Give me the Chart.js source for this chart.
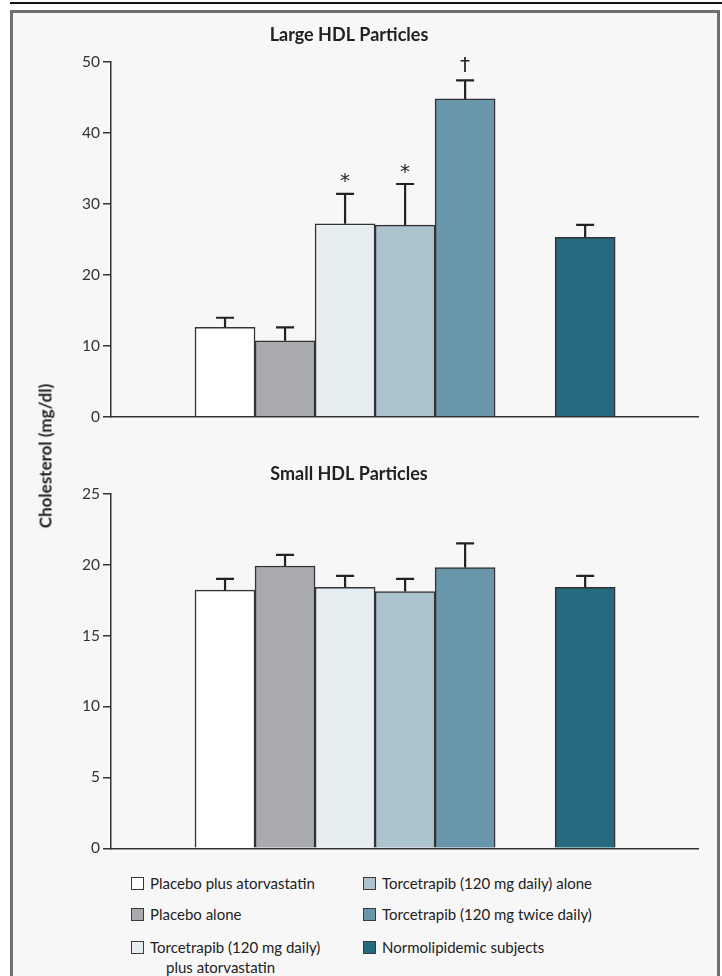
<!DOCTYPE html>
<html>
<head>
<meta charset="utf-8">
<script src="https://cdn.jsdelivr.net/npm/chart.js@4.4.1/dist/chart.umd.min.js"></script>
<style>
  html, body { margin: 0; padding: 0; background: #ffffff; }
  body { width: 722px; height: 976px; position: relative; overflow: hidden; font-family: Lato, "Open Sans", sans-serif; color: #222; }
  #rule { position: absolute; left: 10px; top: 2px; width: 712px; height: 2px; background: #151515; }
  #frame { position: absolute; left: 10px; top: 10px; width: 704px; height: 1000px; border: 3px solid #6f6f6f; background: #f7f7f7; }
  canvas { position: absolute; left: 0; }
  #ytitle { position: absolute; left: 45px; top: 456px; transform: translate(-50%, -50%) rotate(-90deg); white-space: nowrap; font-weight: bold; font-size: 17px; color: #222; }
  .lg { position: absolute; font-size: 15px; color: #222; line-height: 20px; white-space: nowrap; }
  .lg .box { position: absolute; left: 0; top: 3px; width: 11px; height: 11px; border: 1px solid #3a3a3a; }
  .lg .txt { position: absolute; left: 19px; top: -1px; }
  .lg .txt2 { position: absolute; left: 35px; top: 19px; }
</style>
</head>
<body>
<div id="rule"></div>
<div id="frame"></div>
<canvas id="large" width="722" height="410" style="top:20px"></canvas>
<canvas id="small" width="722" height="430" style="top:440px"></canvas>
<div id="ytitle">Cholesterol (mg/dl)</div>
<div id="legend"></div>
<script>
// ---- data ----
const categories = [
  'Placebo plus atorvastatin',
  'Placebo alone',
  ['Torcetrapib (120 mg daily)', 'plus atorvastatin'],
  'Torcetrapib (120 mg daily) alone',
  'Torcetrapib (120 mg twice daily)',
  'Normolipidemic subjects'
];
const slots = [1, 2, 3, 4, 5, 7];
const largeMeans = [12.6, 10.7, 27.2, 27.0, 44.8, 25.3];
const largeErr   = [1.35, 1.9, 4.2, 5.8, 2.6, 1.75];
const largeMarks = ['', '', '*', '*', '\u2020', ''];
const smallMeans = [18.2, 19.9, 18.4, 18.1, 19.8, 18.4];
const smallErr   = [0.8, 0.78, 0.8, 0.9, 1.7, 0.8];
const smallMarks = ['', '', '', '', '', ''];
const largeTicks = [0, 10, 20, 30, 40, 50];
const smallTicks = [0, 5, 10, 15, 20, 25];
const colors = ['#ffffff', '#a9aaae', '#e6eef2', '#acc3d0', '#6a96ab', '#266a80'];

const FONT = 'Lato, "Open Sans", sans-serif';

const errPlugin = {
  id: 'errbars',
  afterDatasetsDraw(chart, args, opts) {
    const ctx = chart.ctx;
    const meta = chart.getDatasetMeta(0);
    const ys = chart.scales.y;
    ctx.save();
    ctx.strokeStyle = '#222';
    ctx.lineWidth = 2.2;
    meta.data.forEach((bar, i) => {
      const v = opts.means[i], e = opts.errs[i];
      const yTop = ys.getPixelForValue(v + e);
      const yBar = ys.getPixelForValue(v);
      ctx.beginPath();
      ctx.moveTo(bar.x, yBar);
      ctx.lineTo(bar.x, yTop);
      ctx.moveTo(bar.x - 9, yTop);
      ctx.lineTo(bar.x + 9, yTop);
      ctx.stroke();
      const m = opts.marks[i];
      if (m) {
        ctx.fillStyle = '#222';
        ctx.font = '20px "DejaVu Sans", sans-serif';
        ctx.textAlign = 'center';
        ctx.textBaseline = 'alphabetic';
        const mt = ctx.measureText(m);
        const target = yTop - 16;
        const y = target + (mt.actualBoundingBoxAscent - mt.actualBoundingBoxDescent) / 2;
        ctx.fillText(m, bar.x, y);
      }
    });
    ctx.restore();
  }
};

function makeChart(id, title, means, errs, marks, ticks, pad) {
  const tickMax = ticks[ticks.length - 1];
  const step = ticks[1] - ticks[0];
  return new Chart(document.getElementById(id), {
    type: 'bar',
    data: {
      labels: categories,
      datasets: [{
        data: means.map((v, i) => ({ x: slots[i], y: v })),
        backgroundColor: colors,
        borderColor: '#333',
        borderWidth: 1.5,
        barPercentage: 1,
        categoryPercentage: 1
      }]
    },
    options: {
      responsive: false,
      animation: false,
      devicePixelRatio: 1,
      layout: { padding: { left: 0, right: 24, top: pad.top, bottom: pad.bottom } },
      plugins: {
        legend: { display: false },
        tooltip: { enabled: false },
        title: {
          display: true, text: title, color: '#222',
          font: { family: FONT, size: 18, weight: 'bold', lineHeight: 1.2 },
          padding: { top: pad.tTop, bottom: pad.tBottom }
        },
        errbars: { means: means, errs: errs, marks: marks }
      },
      scales: {
        x: {
          type: 'linear', min: -0.9, max: 8.88, offset: false,
          grid: { display: false },
          ticks: { display: false },
          border: { display: true, color: '#333', width: 1.5 },
          afterBuildTicks(s) { s.ticks = slots.map(v => ({ value: v })); },
          afterFit(s) { s.height = 0; }
        },
        y: {
          min: 0, max: tickMax,
          ticks: { stepSize: step, color: '#333', padding: 3, font: { family: FONT, size: 15.5 } },
          grid: { drawOnChartArea: false, drawTicks: true, tickLength: 8, color: '#333', lineWidth: 1.5 },
          border: { display: true, color: '#333', width: 1.5 },
          afterFit(s) { s.width = 111; }
        }
      }
    },
    plugins: [errPlugin]
  });
}

makeChart('large', 'Large HDL Particles', largeMeans, largeErr, largeMarks, largeTicks,
  { top: 0, bottom: 13.3, tTop: 4, tBottom: 16.4 });
makeChart('small', 'Small HDL Particles', smallMeans, smallErr, smallMarks, smallTicks,
  { top: 0, bottom: 21.7, tTop: 23, tBottom: 9.1 });

// ---- HTML legend (column-major, 3 rows) ----
const legend = document.getElementById('legend');
const colX = [131, 363];
const rowY = [874, 905, 938];
categories.forEach((lab, i) => {
  const col = Math.floor(i / 3), row = i % 3;
  const d = document.createElement('div');
  d.className = 'lg';
  d.style.left = colX[col] + 'px';
  d.style.top = rowY[row] + 'px';
  const box = document.createElement('span');
  box.className = 'box';
  box.style.background = colors[i];
  d.appendChild(box);
  const lines = Array.isArray(lab) ? lab : [lab];
  const t = document.createElement('span');
  t.className = 'txt';
  t.textContent = lines[0];
  d.appendChild(t);
  if (lines[1]) {
    const t2 = document.createElement('span');
    t2.className = 'txt2';
    t2.textContent = lines[1];
    d.appendChild(t2);
  }
  legend.appendChild(d);
});
</script>
</body>
</html>
